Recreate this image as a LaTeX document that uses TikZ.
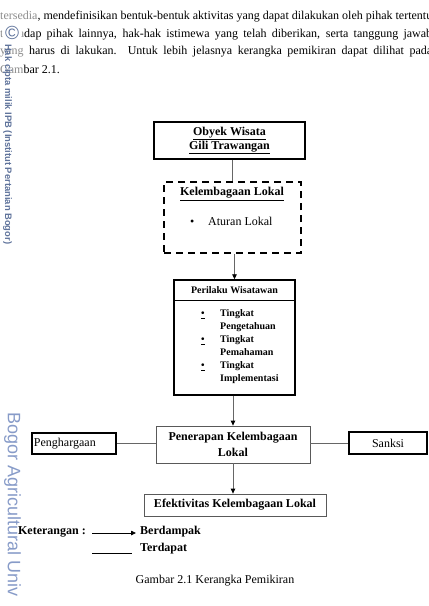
\documentclass[tikz,border=0pt]{standalone}
\usepackage{fontspec}
\setmainfont{Liberation Serif}
\newfontfamily\wmfont{Liberation Sans}
\usepackage{xcolor}
\usepackage{tikz}
\usetikzlibrary{arrows.meta}
\definecolor{wmblue}{RGB}{95,115,155}
\definecolor{wmlight}{RGB}{135,155,200}

\begin{document}
\begin{tikzpicture}[x=1pt, y=-1pt,
  line/.style={inner sep=0pt, anchor=west, font=\fontsize{12}{14}\selectfont},
  thickbox/.style={draw, line width=1.6pt, align=center, font=\fontsize{12}{14}\selectfont},
  thinbox/.style={draw=black!65, line width=0.8pt, align=center, font=\bfseries\fontsize{12}{16}\selectfont},
  dashbox/.style={draw, line width=1.6pt, dash pattern=on 7pt off 5pt},
  label/.style={inner sep=0pt, font=\fontsize{12}{14}\selectfont},
  small/.style={inner sep=0pt, font=\bfseries\fontsize{10}{13}\selectfont},
  link/.style={draw=black!60, line width=0.8pt},
  arrow/.style={link, -{Triangle[length=5pt,width=4.5pt,color=black]}}
]
\useasboundingbox (0,0) rectangle (429,606);

% paragraph above the figure
\node[line] (par1) at (0,17) {\makebox[432pt][s]{\textcolor{black!45}{tersedia}, mendefinisikan bentuk-bentuk aktivitas yang dapat dilakukan oleh pihak tertentu}};
\node[line] (par2) at (0,34.5) {\makebox[432pt][s]{\textcolor{black!45}{terha}dap pihak lainnya, hak-hak istimewa yang telah diberikan, serta tanggung jawab}};
\node[line] (par3) at (0,52) {\makebox[432pt][s]{\textcolor{black!45}{yang} harus di lakukan.\ \ Untuk lebih jelasnya kerangka pemikiran dapat dilihat pada}};
\node[line] (par4) at (0,69.5) {\textcolor{black!45}{Gam}bar 2.1.};

% watermark
\node[circle, fill=white, inner sep=0.3pt, text=wmblue, font=\wmfont\fontsize{19}{19}\selectfont] (copyright) at (12,33) {©};
\node[rotate=-90, anchor=west, inner sep=0pt, text=wmblue, font=\wmfont\bfseries\fontsize{9.4}{11}\selectfont] (hakcipta) at (7.5,44) {Hak cipta milik IPB (Institut Pertanian Bogor)};
\node[rotate=-90, anchor=west, inner sep=0pt, text=wmlight, font=\wmfont\fontsize{18}{18}\selectfont] (bogor) at (12.5,412) {Bogor Agricultural Univ};

% boxes
\node[thickbox, minimum width=151pt, minimum height=37pt, font=\bfseries\fontsize{12}{14}\selectfont] (obyek) at (229.5,140.5) {\underline{Obyek Wisata}\\\underline{Gili Trawangan}};
\node[dashbox, minimum width=137pt, minimum height=71pt] (lembaga) at (232.5,217.5) {};
\node[label, font=\bfseries\fontsize{12}{14}\selectfont] (lembagaJudul) at (232,194) {\underline{Kelembagaan Lokal}};
\node[label, anchor=west] (aturan) at (190,221) {\textbullet\hspace{13.8pt}Aturan Lokal};

\node[thickbox, line width=1.4pt, minimum width=121pt, minimum height=115pt] (perilaku) at (234.5,337.5) {};
\draw[line width=0.8pt] (perilaku.west |- 0,300) -- (perilaku.east |- 0,300);
\node[small] (perilakuJudul) at (234.5,290) {Perilaku Wisatawan};
\node[small, anchor=north west, align=left] (tingkat) at (201,309.5) {%
  \makebox[19pt][l]{\underline{\textbullet}}Tingkat\\\hspace*{19pt}Pengetahuan\\
  \makebox[19pt][l]{\underline{\textbullet}}Tingkat\\\hspace*{19pt}Pemahaman\\
  \makebox[19pt][l]{\underline{\textbullet}}Tingkat\\\hspace*{19pt}Implementasi};

\node[thinbox, minimum width=154pt, minimum height=37pt] (penerapan) at (233,444.5) {Penerapan Kelembagaan\\Lokal};
\node[thinbox, minimum width=182pt, minimum height=22pt] (efektivitas) at (235,505) {Efektivitas Kelembagaan Lokal};
\node[thickbox, text width=80pt, align=left, inner xsep=2pt, minimum height=21pt] (penghargaan) at (74,443.5) {Penghargaan};
\node[thickbox, minimum width=78pt, minimum height=22pt] (sanksi) at (388,443) {Sanksi};

% connectors
\draw[link] (lembaga.north |- obyek.south) -- (lembaga.north);
\draw[arrow] (lembaga.south -| perilaku.north) -- (perilaku.north);
\draw[arrow] (perilaku.south -| penerapan.north) -- (penerapan.north);
\draw[arrow] (penerapan.south) -- (penerapan.south |- efektivitas.north);
\draw[link] (penghargaan.east) -- (penghargaan.east -| penerapan.west);
\draw[link] (penerapan.east |- sanksi.west) -- (sanksi.west);

% legend
\node[label, anchor=east, font=\bfseries\fontsize{12}{14}\selectfont] (keterangan) at (86,532) {Keterangan :};
\node[label, anchor=west, font=\bfseries\fontsize{12}{14}\selectfont] (berdampak) at (140,532) {Berdampak};
\node[label, anchor=west, font=\bfseries\fontsize{12}{14}\selectfont] (terdapat) at (140,549) {Terdapat};
\coordinate (legArrow) at (92,533);
\coordinate (legLineA) at (92,553);
\coordinate (legLineB) at (132,553);
\draw[arrow, draw=black, shorten >=4pt] (legArrow) -- (legArrow -| berdampak.west);
\draw[link, draw=black] (legLineA) -- (legLineB);

\node[label] (caption) at (215,581) {Gambar 2.1 Kerangka Pemikiran};
\end{tikzpicture}
\end{document}
